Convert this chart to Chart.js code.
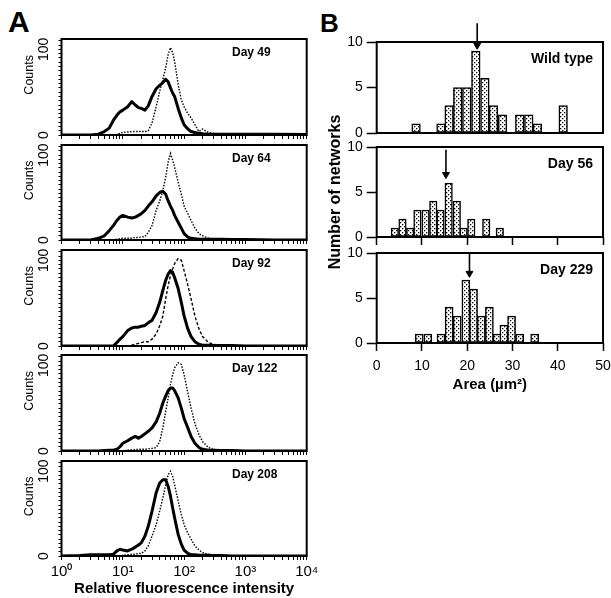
<!DOCTYPE html>
<html>
<head>
<meta charset="utf-8">
<script src="https://cdn.jsdelivr.net/npm/chart.js@4.4.1/dist/chart.umd.min.js"></script>
<style>
  html, body { margin:0; padding:0; background:#fff; overflow:hidden; }
  #fig { position:relative; width:611px; height:598px; overflow:hidden; background:#fff; }
  #fig canvas { position:absolute; }
  .lab { position:absolute; font-family:'Liberation Sans', Arial, sans-serif; font-weight:bold; line-height:1; color:#000; }
</style>
</head>
<body>
<div id="fig">
  <div class="lab" style="left:8px;top:7px;font-size:30px">A</div>
  <div class="lab" style="left:320px;top:10px;font-size:26px">B</div>
  <canvas id="a1" width="324" height="120" style="left:0;top:27px"></canvas>
  <canvas id="a2" width="324" height="119" style="left:0;top:133px"></canvas>
  <canvas id="a3" width="324" height="120" style="left:0;top:238px"></canvas>
  <canvas id="a4" width="324" height="120" style="left:0;top:343px"></canvas>
  <canvas id="a5" width="324" height="149" style="left:0;top:449px"></canvas>
  <canvas id="b1" width="300" height="132" style="left:322px;top:14px"></canvas>
  <canvas id="b2" width="300" height="185" style="left:322px;top:100px"></canvas>
  <canvas id="b3" width="300" height="160" style="left:322px;top:240px"></canvas>
</div>
<script>
// ---- panel A : flow histograms (x = relative fluorescence, log) ----
const fluor = [1, 2, 3, 4, 5, 6, 7, 8, 9, 10, 12, 14, 16, 18, 20, 23, 26, 30, 35, 40, 45, 50, 55, 60, 65, 70, 80, 90, 100, 115, 130, 150, 175, 200, 250, 300, 400, 600, 1000, 3000, 10000];

const d49Solid  = [0,0,0,1,4,8,17,23,27,29, 33,39,35,32,31,29,34,45,54,58, 61,65,62,55,49,45,31,20,12,7, 4,3,2,1.5,1,1,1,1,1,1,0.5];
const d49Dot    = [0,0,0,0,0,0,0,1,2,3, 3.5,4,4,4,4,4,5,14,33,51, 65,78,94,102,96,86,59,41,33,25, 20,12,4,7,3,2,1,0.5,0,0,0];
const d64Solid  = [0,0,0,2,5,11,17,23,27,29, 27,26,27,29,31,35,40,45,52,56, 57.5,54,46,40,35,29,21,14,7.5,3.5, 2,1.5,1,1,1,1,1,0.5,0.5,0,0];
const d64Dot    = [0,0,0,0,0,0,0,1,1.5,2, 2,2,3,3,3.5,4,9,17,35,46, 58,74,92,102,94,86,68,54,40,31, 23,14,7.5,5,2,1,0.5,0,0,0,0];
const d92Solid  = [0,0,0,0,0,0,0,4,8,11, 18,21,22,22,23,24,27,30,39,51, 65,76.5,84,88,86,80,67,51,35,20, 11,5,2,1,1,0.5,0.5,0.5,0,0,0];
const d92Dash   = [0,0,0,0,0,0,0,0,0,0, 0,1,2,3,4,5,5,8,14,23.5, 35,55,71,82,90,96,102,100,88,71, 55,35,20,11,4,2,1,0,0,0,0];
const d122Solid = [0,0,0,0,0.5,1,1,2,5,9, 12,15,17,15,17,20,23,27,34,44, 56,64,70.5,73.5,73.5,70.5,62,50,38,27, 17,9,4,2,1,1,0.5,0.5,0,0,0];
const d122Dot   = [0,0,0,0,0,0,0,0,0,0, 1,1.5,1.5,2,2,2,2.5,3,4,11, 27,46,62,78,89,97,103,101,89,68, 50,32,19,11,4,2,1,0.5,0,0,0];
const d208Solid = [0,0.5,1.5,1.5,1.5,1.5,2,6,8,7, 6,8,10.5,13,15.5,23.5,35,53,74.5,86, 90,90,82,70.5,57,45,25.5,14,7,3, 1.5,1.5,1,1,1,0.5,0.5,0,0,0,0];
const d208Dot   = [0,0,0,0,0,0,0,0,0,1, 1.5,2,2,3,3,6,12,23.5,37,53, 68.5,84,96,100,94,84,65,49,37,27, 20,12,7,4,2,1,0.5,0,0,0,0];

const decadeValues = [1, 10, 100, 1000, 10000];
const decadeLabels = ['10⁰', '10¹', '10²', '10³', '10⁴'];
const countLabels  = [0, 100];

// ---- panel B : network area histograms ----
const wtArea   = [8.7, 14.2, 16, 17.9, 19.9, 21.9, 23.9, 25.8, 27.8, 31.6, 33.6, 35.5, 41.2];
const wtCount  = [1, 1, 3, 5, 5, 9, 6, 3, 2, 2, 2, 1, 3];
const d56Area  = [4.0, 5.7, 7.4, 9.0, 10.8, 12.5, 14.1, 15.9, 17.7, 19.2, 20.9, 24.2, 27.2];
const d56Count = [1, 2, 1, 3, 3, 4, 3, 6, 4, 1, 2, 2, 1];
const d229Area  = [9.4, 11.3, 14.2, 16.0, 17.8, 19.7, 21.4, 23.1, 24.9, 26.6, 28.1, 29.8, 31.6, 34.9];
const d229Count = [1, 1, 1, 4, 3, 7, 6, 3, 4, 1, 2, 3, 1, 1];

// arrows (mean area): x position, tail and head heights in counts
const arrowX    = [22.2, 15.3, 20.5];
const arrowTail = [12.05, 9.7, 10];
const arrowHead = [9.64, 6.94, 7.74];

const FONT = "'Liberation Sans', Arial, sans-serif";
Chart.defaults.font.family = FONT;
Chart.defaults.color = '#000';

// frame around the plot box + the "Day xx" tag
const frameTag = {
  id: 'frameTag',
  afterDraw(chart, args, o) {
    const { ctx, chartArea: a } = chart;
    ctx.save();
    ctx.strokeStyle = '#000';
    ctx.lineWidth = o.frame;
    ctx.strokeRect(a.left, a.top, a.right - a.left, a.bottom - a.top);
    ctx.fillStyle = '#000';
    ctx.font = o.font;
    ctx.textBaseline = 'middle';
    ctx.textAlign = o.align;
    const x = o.align === 'left' ? a.left + o.dx : a.right - o.dx;
    ctx.fillText(o.text, x, a.top + o.dy);
    ctx.restore();
  }
};

// minor + major ticks of the log axis
const logTicks = [];
for (let d = 1; d < 10000; d *= 10) for (let k = 1; k < 10; k++) logTicks.push(k * d);
logTicks.push(10000);

function histChart(id, tag, solid, other, dash, last) {
  new Chart(document.getElementById(id), {
    type: 'line',
    data: {
      datasets: [
        { data: fluor.map((x, i) => ({ x, y: other[i] })), borderColor: '#000', borderWidth: 1.4,
          borderDash: dash, pointRadius: 0, tension: 0 },
        { data: fluor.map((x, i) => ({ x, y: solid[i] })), borderColor: '#000', borderWidth: 3,
          pointRadius: 0, tension: 0, borderJoinStyle: 'round' }
      ]
    },
    options: {
      responsive: false, animation: false, devicePixelRatio: 1,
      layout: { padding: { top: 12, right: 17.3, left: 0, bottom: 0 } },
      plugins: {
        legend: { display: false }, tooltip: { enabled: false },
        frameTag: { text: tag, align: 'left', dx: 170.5, dy: 14, font: 'bold 12px ' + FONT, frame: 2 }
      },
      scales: {
        x: {
          type: 'logarithmic', min: 1, max: 10000, border: { display: false },
          grid: { drawOnChartArea: false, tickLength: 4, tickColor: '#000', tickWidth: 1 },
          afterBuildTicks: s => { s.ticks = logTicks.map(v => ({ value: v })); },
          ticks: { autoSkip: false, maxRotation: 0, padding: 3, font: { size: 15 },
            callback: v => last ? (decadeLabels[decadeValues.indexOf(v)] ?? '') : '' },
          title: { display: last, text: 'Relative fluorescence intensity',
            font: { size: 15, weight: 'bold' }, padding: { top: 0, bottom: 0 } },
          afterFit: s => { s.height = last ? 42 : 12; }
        },
        y: {
          min: 0, max: 112, border: { display: false },
          grid: { drawOnChartArea: false, tickLength: 3, tickColor: '#000', tickWidth: 1 },
          ticks: { stepSize: 5, autoSkip: false, includeBounds: false, minRotation: 90, maxRotation: 90,
            crossAlign: 'center', padding: 3, font: { size: 14 },
            callback: v => countLabels.includes(v) ? String(v) : '' },
          title: { display: true, text: '       Counts', font: { size: 12.5 }, padding: { top: 22.5, bottom: 0 } },
          afterFit: s => { s.width = 61.5; }
        }
      }
    },
    plugins: [frameTag]
  });
}

histChart('a1', 'Day 49', d49Solid, d49Dot, [1.5, 1.5], false);
histChart('a2', 'Day 64', d64Solid, d64Dot, [1.5, 1.5], false);
histChart('a3', 'Day 92', d92Solid, d92Dash, [3, 2], false);
histChart('a4', 'Day 122', d122Solid, d122Dot, [1.5, 1.5], false);
histChart('a5', 'Day 208', d208Solid, d208Dot, [1.5, 1.5], true);

// stippled bar fill
const tile = document.createElement('canvas');
tile.width = 4; tile.height = 4;
const tg = tile.getContext('2d');
tg.fillStyle = '#fff'; tg.fillRect(0, 0, 4, 4);
tg.fillStyle = '#000'; tg.fillRect(0, 0, 1.3, 1.3); tg.fillRect(2, 2, 1.3, 1.3);

function areaChart(id, tag, area, count, k, thick, mode, pad) {
  const cv = document.getElementById(id);
  const dots = cv.getContext('2d').createPattern(tile, 'repeat');
  new Chart(cv, {
    type: 'bar',
    data: {
      datasets: [
        { type: 'bar', data: area.map((x, i) => ({ x, y: count[i] })), backgroundColor: dots,
          borderColor: '#000', borderWidth: 1.5, borderSkipped: false, barThickness: thick, order: 2 },
        { type: 'line', data: [{ x: arrowX[k], y: arrowTail[k] }, { x: arrowX[k], y: arrowHead[k] }],
          borderColor: '#000', borderWidth: 1.6, pointRadius: [0, 4], pointStyle: 'triangle', pointRotation: 180,
          pointBackgroundColor: '#000', pointBorderColor: '#000', pointBorderWidth: 1, clip: false, order: 1 }
      ]
    },
    options: {
      responsive: false, animation: false, devicePixelRatio: 1,
      layout: { padding: pad },
      plugins: {
        legend: { display: false }, tooltip: { enabled: false },
        frameTag: { text: tag, align: 'right', dx: 10, dy: 17, font: 'bold 14px ' + FONT, frame: 2 }
      },
      scales: {
        x: {
          type: 'linear', min: 0, max: 50, offset: false, display: mode !== 'top', border: { display: false },
          grid: { offset: false, drawOnChartArea: false, tickLength: 8, tickColor: '#000', tickWidth: 1.5 },
          ticks: { stepSize: 10, padding: 6.6, font: { size: 14 }, callback: v => mode === 'bottom' ? v : '' },
          title: { display: mode === 'bottom', text: 'Area (µm²)', font: { size: 15, weight: 'bold' },
            padding: { top: 0, bottom: 6 } },
          afterFit: s => { s.height = mode === 'bottom' ? 57 : (mode === 'mid' ? 48 : 0); }
        },
        y: {
          min: 0, max: 10, border: { display: false },
          grid: { drawOnChartArea: false, tickLength: 10, tickColor: '#000', tickWidth: 1.5 },
          ticks: { stepSize: 5, padding: 4, font: { size: 14 } },
          title: { display: mode === 'mid', text: 'Number of networks', font: { size: 16, weight: 'bold' },
            padding: { top: 4, bottom: 0 } },
          afterFit: s => { s.width = 54.7; }
        }
      }
    },
    plugins: [frameTag]
  });
}

areaChart('b1', 'Wild type', wtArea, wtCount, 0, 8.6, 'top', { top: 28, right: 19, bottom: 13, left: 0 });
areaChart('b2', 'Day 56', d56Area, d56Count, 1, 7.5, 'mid', { top: 47, right: 19, bottom: 0, left: 0 });
areaChart('b3', 'Day 229', d229Area, d229Count, 2, 8, 'bottom', { top: 13, right: 19, bottom: 0, left: 0 });
</script>
</body>
</html>
